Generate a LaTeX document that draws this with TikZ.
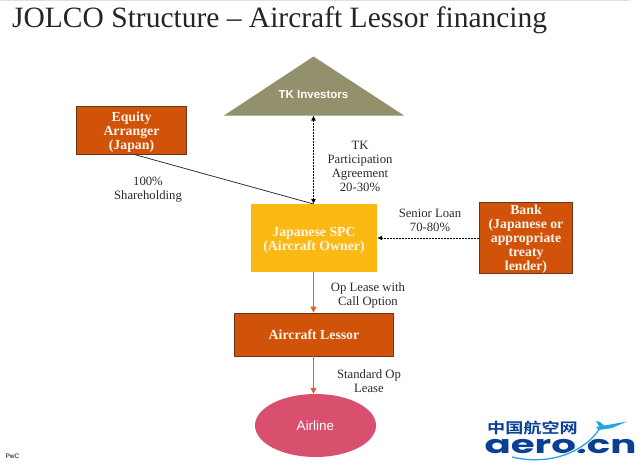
\documentclass[tikz,border=0pt]{standalone}
\usepackage{fontspec}
\setmainfont{Liberation Serif}
\newfontfamily\sansf{Liberation Sans}
\newfontfamily\cjkf{Noto Sans CJK SC}[BoldFont=* Bold]
\newfontfamily\logof{Poppins}
\definecolor{orangebox}{HTML}{D15209}
\definecolor{orangeedge}{HTML}{6E3218}
\definecolor{spc}{HTML}{FDB913}
\definecolor{tk}{HTML}{93906C}
\definecolor{air}{HTML}{D94F6E}
\definecolor{arrowo}{HTML}{D8623A}
\definecolor{txt}{HTML}{2B2B2B}
\definecolor{logob}{HTML}{0B3F96}
\definecolor{logoc}{HTML}{25A5DC}
\usetikzlibrary{arrows.meta,shapes.geometric}
\newcommand\riser[1]{\rule{0pt}{#1}}
\tikzset{
 boldtext/.style={text=white!92!orange,font=\fontsize{13.8}{14}\selectfont\bfseries,align=center,inner sep=0pt},
 boxo/.style={draw=orangeedge,line width=0.8pt,fill=orangebox,boldtext},
 lab/.style={text=txt,font=\fontsize{12.7}{14}\selectfont,align=center,inner sep=0pt},
 dashline/.style={black,dash pattern=on 2pt off 1pt,line width=0.8pt},
 orangeline/.style={arrowo,line width=1.2pt,-{Triangle[length=6pt,width=6pt]}},
}
\begin{document}
\begin{tikzpicture}[x=1pt,y=-1pt]
\useasboundingbox (0,0) rectangle (640,467);
\fill[white] (0,0) rectangle (640,467);
\fill[black!12] (0,0) rectangle (630,1);
\node[anchor=base west,inner sep=0pt,text=black!85] (title) at (12,27) {\fontsize{29.5}{32}\selectfont JOLCO Structure – Aircraft Lessor financing};
% nodes
\path[fill=tk] (224,115.5) -- (313.5,56.5) -- (404,115.5) -- cycle;
\coordinate (tkb) at (313.5,115.5);
\node[text=white,inner sep=0pt,font=\sansf\fontsize{11.5}{13}\selectfont\bfseries] (tki) at (313.5,94.5) {TK Investors};
\node[boxo,minimum width=110pt,minimum height=48pt] (eq) at (131.5,130) {\riser{14pt}Equity\\Arranger\\(Japan)};
\node[fill=spc,boldtext,minimum width=126pt,minimum height=68pt] (spc) at (314,238) {\riser{14pt}Japanese SPC\\(Aircraft Owner)};
\node[boxo,minimum width=93pt,minimum height=71.5pt] (bank) at (526,238) {\riser{12pt}Bank\\(Japanese or\\appropriate\\treaty\\lender)};
\node[boxo,minimum width=159pt,minimum height=43pt] (les) at (314,334.5) {Aircraft Lessor};
\node[ellipse,fill=air,text=white,inner sep=0pt,minimum width=121pt,minimum height=63pt,font=\sansf\fontsize{13.5}{15}\selectfont] (air) at (315.5,425.5) {Airline};
% connectors
\coordinate (spct) at (313.5,204);
\draw[dashline,{Latex[length=5pt,width=5pt]}-{Latex[length=5pt,width=5pt]}] (tkb) -- (spct);
\draw[black!80,line width=0.8pt] (eq.south) ++(2.5,0) -- (spct);
\draw[dashline,-{Latex[length=5pt,width=5pt]}] (bank.west) -- (spc.east);
\draw[orangeline] (spc.south -| spct) -- (les.north -| spct);
\draw[orangeline] (les.south -| spct) -- (air.north -| spct);
% labels
\node[lab] (l1) at (148,190) {100\%\\Shareholding};
\node[lab] (l2) at (360,166) {TK\\Participation\\Agreement\\20-30\%};
\node[lab] (l3) at (430,220) {Senior Loan\\70-80\%};
\node[lab] (l4) at (368,295) {Op Lease with\\Call Option};
\node[lab] (l5) at (369,381) {Standard Op\\Lease};
\node[inner sep=0pt,font=\sansf\fontsize{6.5}{8}\selectfont,text=black] (pwc) at (12.5,456.5) {PwC};
% logo
\node[inner sep=0pt,text=logob,xscale=1.25,font=\cjkf\fontsize{14.5}{16}\selectfont\bfseries] (cn) at (532.5,427.5) {中国航空网};
\node[anchor=base,inner sep=0pt,text=logob,xscale=1.55,font=\logof\fontsize{25}{27}\selectfont\bfseries] (aero) at (560.5,453) {aero.cn};
\draw[white,line width=3pt] (512,457) .. controls (550,466) and (585,452) .. (600,428);
\draw[logoc,line width=1.3pt] (512,457) .. controls (550,466) and (585,452) .. (600,428);
\fill[logoc] (596,427) -- (627,421.5) -- (612,428) -- (599,430) -- cycle;
\fill[logoc] (596,421) -- (600,422) -- (606,427) -- (600,428) -- cycle;
\end{tikzpicture}
\end{document}
